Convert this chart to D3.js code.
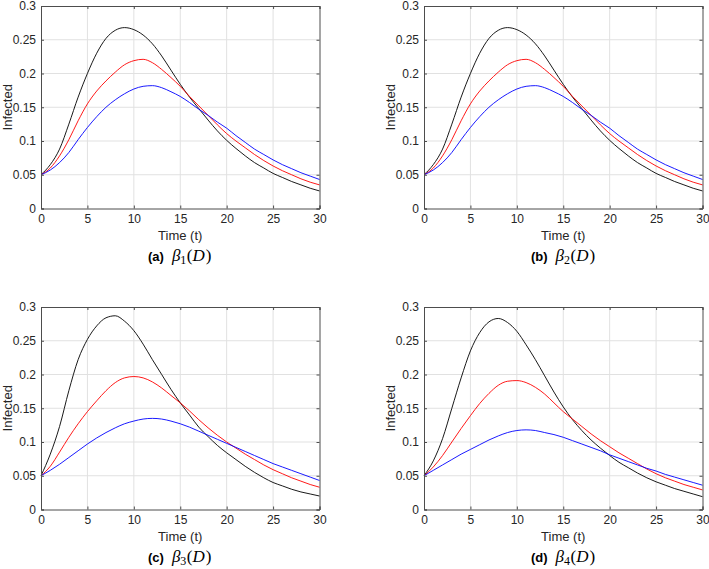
<!DOCTYPE html>
<html>
<head>
<meta charset="utf-8">
<script src="https://cdn.jsdelivr.net/npm/d3@7"></script>
<style>
  body { margin: 0; background: #fff; }
  svg { display: block; }
  .tick text { font-family: "Liberation Sans", Arial, sans-serif; font-size: 12px; fill: #262626; }
</style>
</head>
<body>
<div id="chart"></div>
<script>
const time = [0,1,2,3,4,5,6,7,8,9,10,11,12,13,14,15,16,17,18,19,20,21,22,23,24,25,26,27,28,29,30];
const xTicks = [0, 5, 10, 15, 20, 25, 30];
const yTicks = [0, 0.05, 0.1, 0.15, 0.2, 0.25, 0.3];

// beta_1(D)
const aBlack = [0.05,0.065,0.088,0.125,0.165,0.2,0.23,0.252,0.264,0.268,0.265,0.257,0.244,0.226,0.205,0.184,0.165,0.148,0.131,0.115,0.101,0.089,0.078,0.068,0.06,0.052,0.046,0.04,0.035,0.03,0.026];
const aRed   = [0.05,0.06,0.078,0.102,0.13,0.155,0.174,0.189,0.202,0.213,0.219,0.221,0.216,0.206,0.194,0.181,0.166,0.152,0.138,0.124,0.111,0.1,0.09,0.08,0.071,0.063,0.056,0.05,0.044,0.039,0.035];
const aBlue  = [0.05,0.057,0.068,0.083,0.102,0.12,0.136,0.15,0.161,0.17,0.177,0.181,0.182,0.179,0.173,0.166,0.157,0.147,0.138,0.128,0.119,0.108,0.098,0.088,0.08,0.072,0.065,0.059,0.053,0.048,0.043];
// beta_2(D)
const bBlack = [0.05,0.065,0.088,0.125,0.165,0.2,0.23,0.252,0.264,0.268,0.265,0.257,0.244,0.226,0.205,0.184,0.165,0.148,0.131,0.115,0.101,0.089,0.078,0.068,0.06,0.052,0.046,0.04,0.035,0.03,0.026];
const bRed   = [0.05,0.06,0.078,0.102,0.13,0.155,0.174,0.189,0.202,0.213,0.219,0.221,0.216,0.206,0.194,0.181,0.166,0.152,0.138,0.124,0.111,0.1,0.09,0.08,0.071,0.063,0.056,0.05,0.044,0.039,0.035];
const bBlue  = [0.05,0.057,0.068,0.083,0.102,0.12,0.136,0.15,0.161,0.17,0.177,0.181,0.182,0.179,0.173,0.166,0.157,0.147,0.138,0.128,0.119,0.108,0.098,0.088,0.08,0.072,0.065,0.059,0.053,0.048,0.043];
// beta_3(D)
const cBlack = [0.05,0.082,0.123,0.176,0.222,0.252,0.272,0.284,0.287,0.279,0.265,0.245,0.222,0.2,0.178,0.158,0.14,0.122,0.108,0.095,0.084,0.074,0.064,0.055,0.047,0.04,0.035,0.03,0.026,0.023,0.02];
const cRed   = [0.05,0.064,0.085,0.107,0.127,0.145,0.161,0.176,0.188,0.195,0.197,0.195,0.189,0.18,0.169,0.158,0.146,0.133,0.121,0.11,0.1,0.091,0.082,0.074,0.066,0.059,0.053,0.047,0.042,0.037,0.033];
const cBlue  = [0.05,0.058,0.067,0.077,0.087,0.097,0.106,0.114,0.121,0.127,0.131,0.134,0.135,0.134,0.131,0.127,0.122,0.116,0.11,0.104,0.098,0.092,0.086,0.08,0.074,0.068,0.063,0.058,0.053,0.048,0.043];
// beta_4(D)
const dBlack = [0.05,0.072,0.105,0.15,0.195,0.235,0.262,0.278,0.283,0.277,0.264,0.244,0.222,0.198,0.174,0.152,0.133,0.117,0.103,0.091,0.08,0.07,0.062,0.054,0.047,0.041,0.036,0.031,0.027,0.023,0.019];
const dRed   = [0.05,0.063,0.08,0.1,0.12,0.139,0.157,0.172,0.184,0.19,0.191,0.188,0.181,0.171,0.158,0.145,0.134,0.123,0.112,0.102,0.093,0.084,0.076,0.068,0.06,0.053,0.047,0.042,0.037,0.033,0.029];
const dBlue  = [0.05,0.058,0.066,0.074,0.082,0.089,0.096,0.103,0.109,0.114,0.117,0.118,0.117,0.114,0.111,0.107,0.102,0.097,0.092,0.087,0.081,0.076,0.071,0.066,0.061,0.057,0.052,0.048,0.044,0.04,0.036];

const panelTags = ['(a)', '(b)', '(c)', '(d)'];
const panelSubs = ['1', '2', '3', '4'];
const seriesColors = ['#000000', '#ff0000', '#0000ff'];

const panels = [
  { tag: panelTags[0], sub: panelSubs[0], series: [aBlack, aRed, aBlue], left: 41, top: 6 },
  { tag: panelTags[1], sub: panelSubs[1], series: [bBlack, bRed, bBlue], left: 424, top: 6 },
  { tag: panelTags[2], sub: panelSubs[2], series: [cBlack, cRed, cBlue], left: 41, top: 307 },
  { tag: panelTags[3], sub: panelSubs[3], series: [dBlack, dRed, dBlue], left: 424, top: 307 }
];

const width = 709, height = 569;
const pw = 278.5, ph = 202.5;
const serif = '"Liberation Serif", "Times New Roman", serif';
const sans = '"Liberation Sans", Arial, sans-serif';

const svg = d3.select('#chart').append('svg')
  .attr('width', width)
  .attr('height', height);

const x = d3.scaleLinear().domain([0, 30]).range([0, pw]);
const y = d3.scaleLinear().domain([0, 0.3]).range([ph, 0]);
const line = d3.line()
  .x((d, i) => x(time[i]))
  .y(d => y(d))
  .curve(d3.curveMonotoneX);

panels.forEach(p => {
  const g = svg.append('g').attr('transform', `translate(${p.left},${p.top})`);

  // grid
  g.append('g').selectAll('line').data(xTicks.slice(1, -1)).enter().append('line')
    .attr('x1', d => x(d)).attr('x2', d => x(d))
    .attr('y1', 0).attr('y2', ph)
    .style('stroke', '#e1e1e1').style('stroke-width', 1);
  g.append('g').selectAll('line').data(yTicks.slice(1, -1)).enter().append('line')
    .attr('x1', 0).attr('x2', pw)
    .attr('y1', d => y(d)).attr('y2', d => y(d))
    .style('stroke', '#e1e1e1').style('stroke-width', 1);

  // curves
  p.series.forEach((s, k) => {
    g.append('path')
      .datum(s)
      .attr('d', line)
      .style('fill', 'none')
      .style('stroke', seriesColors[k])
      .style('stroke-width', 0.9);
  });

  // axes, ticks inside
  g.append('g').attr('transform', `translate(0,${ph})`)
    .call(d3.axisBottom(x).tickValues(xTicks).tickSize(-3).tickPadding(6).tickFormat(d3.format('d')));
  g.append('g')
    .call(d3.axisLeft(y).tickValues(yTicks).tickSize(-3).tickPadding(5).tickFormat(d => d === 0 ? '0' : String(d)));
  g.append('g')
    .call(d3.axisTop(x).tickValues(xTicks).tickSize(-3).tickFormat(''));
  g.append('g').attr('transform', `translate(${pw},0)`)
    .call(d3.axisRight(y).tickValues(yTicks).tickSize(-3).tickFormat(''));
  g.selectAll('.domain').style('stroke', '#4d4d4d');
  g.selectAll('.tick line').style('stroke', '#4d4d4d');

  // labels
  g.append('text')
    .attr('x', pw / 2).attr('y', ph + 31)
    .attr('text-anchor', 'middle')
    .style('font-family', sans)
    .style('font-size', '13px').style('fill', '#262626')
    .text('Time (t)');
  g.append('text')
    .attr('transform', `translate(${-29},${ph / 2}) rotate(-90)`)
    .attr('text-anchor', 'middle')
    .style('font-family', sans)
    .style('font-size', '13px').style('fill', '#262626')
    .text('Infected');

  const cap = g.append('text')
    .attr('x', 107).attr('y', ph + 52)
    .style('fill', '#000');
  cap.append('tspan')
    .style('font-family', sans)
    .style('font-size', '13px')
    .style('font-weight', 'bold')
    .text(p.tag);
  cap.append('tspan')
    .attr('dx', 8)
    .style('font-family', serif)
    .style('font-size', '17px')
    .style('font-style', 'italic')
    .text('β');
  cap.append('tspan')
    .style('font-family', serif)
    .style('font-size', '12px')
    .attr('dy', 3)
    .text(p.sub);
  cap.append('tspan')
    .style('font-family', serif)
    .style('font-size', '17px')
    .attr('dx', 0.5)
    .attr('dy', -3)
    .text('(');
  cap.append('tspan')
    .style('font-family', serif)
    .style('font-size', '17px')
    .style('font-style', 'italic')
    .text('D');
  cap.append('tspan')
    .style('font-family', serif)
    .style('font-size', '17px')
    .attr('dx', 1)
    .text(')');
});
</script>
</body>
</html>
